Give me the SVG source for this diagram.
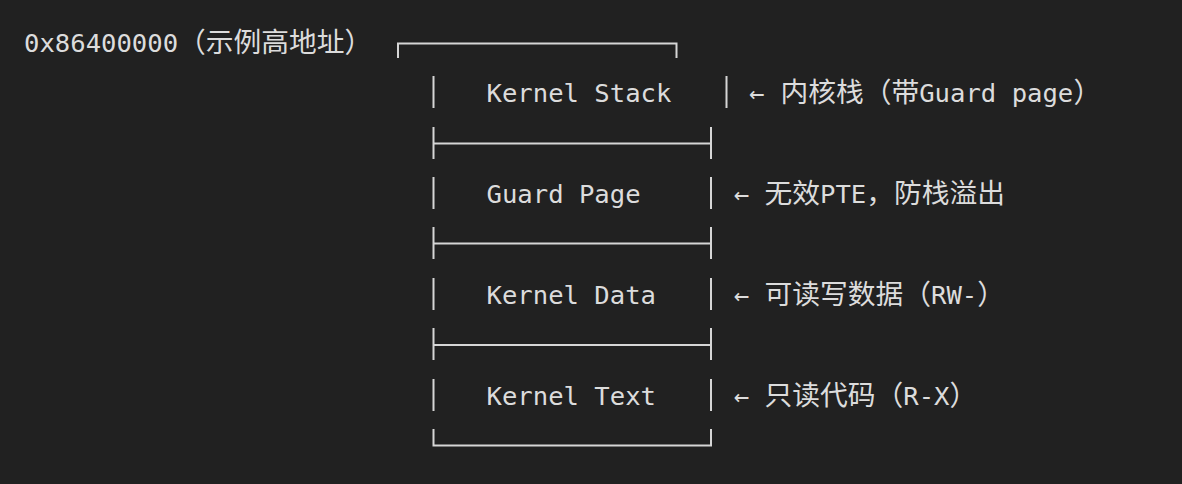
<svg xmlns="http://www.w3.org/2000/svg" width="1182" height="484" viewBox="0 0 1182 484">
<style>
.t{font-family:"DejaVu Sans Mono","Liberation Mono",monospace;font-size:25.6px;fill:#dcdcdc}
.c{font-family:"Noto Sans CJK SC","Noto Sans",sans-serif;font-size:27.75px;fill:#dcdcdc}
.ln{stroke:#d6d6d6;stroke-width:2;fill:none}
</style>
<rect width="1182" height="484" fill="#212121"/>
<g id="address-label">
<text y="51.5"><tspan class="t" x="24">0x86400000</tspan><tspan class="c" x="178">（示例高地址）</tspan></text>
</g>
<g id="box-frame">
<path class="ln" d="M398,58 V43.5 H676.5 V58"/>
<path class="ln" d="M433.5,429 V445.5 H711 V429"/>
</g>
<g id="kernel-stack">
<path class="ln" d="M433.5,76 V108 M726.5,76 V108"/>
<text class="t" x="486.5" y="101.7">Kernel Stack</text>
</g>
<g id="divider-1">
<path class="ln" d="M433.5,127 V159 M711,127 V159 M433.5,143.5 H711"/>
</g>
<g id="guard-page">
<path class="ln" d="M433.5,177 V209 M711,177 V209"/>
<text class="t" x="486.5" y="202.7">Guard Page</text>
</g>
<g id="divider-2">
<path class="ln" d="M433.5,227 V259 M711,227 V259 M433.5,243.5 H711"/>
</g>
<g id="kernel-data">
<path class="ln" d="M433.5,278 V310 M711,278 V310"/>
<text class="t" x="486.5" y="304">Kernel Data</text>
</g>
<g id="divider-3">
<path class="ln" d="M433.5,328 V360 M711,328 V360 M433.5,345 H711"/>
</g>
<g id="kernel-text">
<path class="ln" d="M433.5,379 V411 M711,379 V411"/>
<text class="t" x="486.5" y="405">Kernel Text</text>
</g>
<g id="connectors">
<text class="t" x="749" y="101.7">←</text>
<text class="t" x="733.7" y="202.7">←</text>
<text class="t" x="733.7" y="304">←</text>
<text class="t" x="733.7" y="405">←</text>
</g>
<g id="note-stack">
<text y="101.7"><tspan class="c" x="780.5">内核栈（带</tspan><tspan class="t" x="919.2">Guard page</tspan><tspan class="c" x="1073.4">）</tspan></text>
</g>
<g id="note-guard">
<text y="202.7"><tspan class="c" x="764.5">无效</tspan><tspan class="t" x="820">PTE</tspan><tspan class="c" x="866.3">，防栈溢出</tspan></text>
</g>
<g id="note-data">
<text y="304"><tspan class="c" x="764.5">可读写数据（</tspan><tspan class="t" x="931">RW-</tspan><tspan class="c" x="977.3">）</tspan></text>
</g>
<g id="note-text">
<text y="405"><tspan class="c" x="764.5">只读代码（</tspan><tspan class="t" x="903.3">R-X</tspan><tspan class="c" x="949.5">）</tspan></text>
</g>
</svg>
